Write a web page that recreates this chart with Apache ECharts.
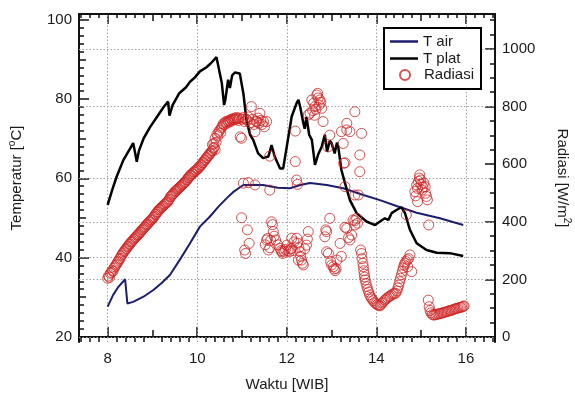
<!DOCTYPE html>
<html>
<head>
<meta charset="utf-8">
<script src="https://cdn.jsdelivr.net/npm/echarts/dist/echarts.min.js"></script>
<style>
  html, body { margin: 0; padding: 0; background: #fff; }
  #chart { width: 575px; height: 398px; }
</style>
</head>
<body>
<div id="chart"></div>
<script>
// time in decimal hours (WIB)
const xTickLabels = [8, 10, 12, 14, 16];
const tempTicks = [20, 40, 60, 80, 100];
const radTicks = [0, 200, 400, 600, 800, 1000];

// T air [hour, degC]
const tAir = [
  [8.00, 27.6], [8.04, 27.8], [8.12, 30.5], [8.24, 32.6], [8.39, 34.5], [8.44, 28.4],
  [8.57, 28.8], [8.80, 30.1], [9.02, 31.8], [9.20, 33.5], [9.39, 35.6], [9.61, 39.4],
  [9.84, 43.6], [10.06, 47.8], [10.28, 50.3], [10.47, 52.8], [10.66, 55.0], [10.80, 56.5],
  [11.03, 58.3], [11.47, 58.3], [11.80, 57.6], [12.07, 57.5], [12.30, 58.3], [12.52, 58.8],
  [12.89, 58.3], [13.26, 57.5], [13.71, 55.8], [14.08, 54.5], [14.45, 53.0], [14.90, 51.3],
  [15.42, 49.9], [15.94, 48.2]
];

// T plat [hour, degC]
const tPlat = [
  [8.00, 53.3], [8.10, 57.0], [8.20, 60.4], [8.35, 64.6], [8.50, 67.5], [8.57, 68.9],
  [8.62, 66.0], [8.65, 64.2], [8.70, 67.0], [8.80, 70.0], [8.95, 73.0], [9.10, 75.5],
  [9.25, 78.0], [9.35, 79.4], [9.38, 75.8], [9.45, 78.5], [9.60, 81.5], [9.75, 83.0],
  [9.84, 84.4], [9.95, 85.5], [10.06, 87.0], [10.20, 88.0], [10.30, 89.0], [10.43, 90.6],
  [10.47, 90.7], [10.55, 84.0], [10.60, 78.5], [10.63, 80.0], [10.69, 84.9], [10.73, 82.8],
  [10.78, 86.0], [10.84, 86.7], [10.95, 86.5], [11.03, 81.5], [11.10, 74.7], [11.18, 71.0],
  [11.25, 69.7], [11.36, 66.3], [11.47, 65.1], [11.59, 65.5], [11.66, 68.4], [11.73, 65.5],
  [11.85, 62.5], [11.92, 62.5], [12.00, 68.0], [12.11, 75.6], [12.22, 79.0], [12.26, 79.8],
  [12.30, 78.0], [12.37, 73.9], [12.40, 72.5], [12.44, 75.5], [12.50, 71.0], [12.56, 69.7],
  [12.63, 63.4], [12.70, 66.0], [12.78, 68.0], [12.85, 71.0], [12.90, 66.7], [12.96, 69.5],
  [13.00, 68.9], [13.07, 66.3], [13.12, 69.0], [13.15, 68.0], [13.22, 62.1], [13.30, 58.8],
  [13.41, 54.5], [13.56, 51.2], [13.78, 49.1], [13.97, 48.2], [14.08, 49.1], [14.19, 49.9],
  [14.27, 49.5], [14.34, 51.2], [14.45, 52.0], [14.56, 52.7], [14.64, 51.2], [14.75, 47.0],
  [14.90, 43.6], [15.12, 41.9], [15.35, 41.2], [15.64, 41.1], [15.94, 40.4]
];

// Radiasi [hour, W/m2]
const radiasi = [
  // morning rise
  [8.00, 204], [8.02, 212], [8.04, 207], [8.06, 221], [8.08, 224], [8.10, 231], [8.12, 228],
  [8.14, 239], [8.16, 244], [8.18, 249], [8.20, 253], [8.22, 259], [8.24, 263], [8.26, 270],
  [8.28, 273], [8.30, 281], [8.32, 285], [8.34, 291], [8.36, 296], [8.38, 299], [8.40, 304],
  [8.42, 307], [8.44, 313], [8.46, 315], [8.48, 321], [8.50, 323], [8.52, 329], [8.54, 331],
  [8.56, 335], [8.58, 339], [8.60, 343], [8.62, 345], [8.64, 349], [8.66, 353], [8.68, 355],
  [8.70, 359], [8.72, 363], [8.74, 365], [8.76, 371], [8.78, 373], [8.80, 377], [8.82, 381],
  [8.84, 383], [8.86, 389], [8.88, 391], [8.90, 393], [8.92, 399], [8.94, 401], [8.96, 405],
  [8.98, 407], [9.00, 411], [9.02, 415], [9.04, 419], [9.06, 425], [9.08, 427], [9.10, 433],
  [9.12, 435], [9.14, 441], [9.16, 443], [9.18, 447], [9.20, 449], [9.22, 453], [9.24, 455],
  [9.26, 459], [9.28, 461], [9.30, 465], [9.32, 467], [9.34, 469], [9.36, 475], [9.38, 479],
  [9.40, 487], [9.42, 489], [9.44, 493], [9.46, 497], [9.48, 499], [9.50, 505], [9.52, 507],
  [9.54, 509], [9.56, 513], [9.58, 515], [9.60, 519], [9.62, 521], [9.64, 525], [9.66, 527],
  [9.68, 531], [9.70, 533], [9.72, 537], [9.74, 539], [9.76, 545], [9.78, 547], [9.80, 553],
  [9.82, 555], [9.84, 561], [9.86, 561], [9.88, 567], [9.90, 567], [9.92, 573], [9.94, 573],
  [9.96, 577], [9.98, 579], [10.00, 583], [10.02, 585], [10.04, 591], [10.06, 591], [10.08, 597],
  [10.10, 599], [10.12, 605], [10.14, 607], [10.16, 613], [10.18, 615], [10.20, 621],
  [10.22, 623], [10.24, 629], [10.26, 631], [10.28, 637], [10.30, 639], [10.32, 645],
  [10.34, 647], [10.36, 655], [10.38, 659], [10.34, 668], [10.37, 672], [10.40, 650],
  // late-morning plateau
  [10.40, 690], [10.42, 676], [10.44, 704], [10.46, 698], [10.48, 712], [10.50, 718],
  [10.52, 708], [10.54, 726], [10.56, 732], [10.58, 740], [10.60, 736], [10.62, 744],
  [10.64, 748], [10.66, 742], [10.68, 750], [10.70, 746], [10.72, 752], [10.74, 748],
  [10.76, 756], [10.78, 752], [10.80, 758], [10.82, 754], [10.84, 760], [10.86, 756],
  [10.88, 762], [10.90, 758], [10.92, 752], [10.94, 760], [10.96, 695], [10.99, 690],
  [11.00, 756], [11.03, 762], [11.06, 748], [11.08, 758], [11.12, 752], [11.14, 764],
  [11.18, 744], [11.21, 800], [11.24, 756], [11.27, 738], [11.29, 713], [11.31, 750],
  [11.33, 748], [11.36, 760], [11.38, 742], [11.40, 777], [11.42, 752], [11.45, 738],
  [11.48, 748], [11.50, 730], [11.55, 748],
  [11.03, 534], [11.14, 536], [11.29, 528], [11.62, 510], [11.62, 628],
  [12.19, 715], [12.19, 609], [12.22, 545], [12.24, 530],
  // cloudy period, upper group
  [12.48, 771], [12.52, 777], [12.56, 823], [12.58, 786], [12.60, 812], [12.62, 770],
  [12.63, 800], [12.65, 790], [12.67, 840], [12.69, 846], [12.70, 830], [12.72, 805],
  [12.74, 823], [12.76, 815], [12.78, 794], [12.81, 748], [12.92, 660], [12.96, 701],
  [13.22, 713], [13.26, 672], [13.34, 742], [13.34, 719], [13.41, 713], [13.52, 782],
  [13.67, 707], [13.63, 632], [13.30, 605], [13.27, 603], [13.63, 574], [13.30, 522],
  [13.60, 493], [13.52, 493],
  // cloudy period, lower group
  [10.99, 414], [11.12, 372], [11.16, 325], [11.06, 302], [11.08, 290],
  [11.52, 320], [11.55, 337], [11.57, 342], [11.59, 302], [11.62, 310], [11.64, 335],
  [11.66, 400], [11.68, 390], [11.70, 366], [11.72, 350], [11.75, 337], [11.80, 320],
  [11.85, 308], [11.87, 300], [11.89, 296], [11.91, 290], [11.94, 298], [11.97, 304],
  [12.00, 319], [12.03, 300], [12.06, 296], [12.09, 306], [12.11, 308], [12.11, 343],
  [12.14, 300], [12.16, 330], [12.22, 343], [12.24, 326], [12.26, 267], [12.27, 310],
  [12.30, 296], [12.31, 280], [12.33, 267], [12.35, 256], [12.37, 250], [12.40, 306],
  [12.44, 319], [12.46, 340], [12.48, 366],
  [12.85, 348], [12.87, 372], [12.89, 366], [12.96, 412], [12.89, 296], [12.93, 290],
  [12.98, 262], [13.00, 250], [13.04, 244], [13.06, 236], [13.08, 230], [13.10, 238],
  [13.12, 267], [13.19, 325], [13.22, 280], [13.30, 381], [13.34, 377], [13.38, 345],
  [13.41, 337], [13.45, 354], [13.48, 406], [13.52, 389], [13.52, 404], [13.56, 412],
  [13.58, 395],
  // afternoon dip
  [13.65, 302], [13.67, 290], [13.68, 272], [13.70, 256], [13.71, 244], [13.72, 230],
  [13.73, 218], [13.74, 208], [13.75, 198], [13.77, 186], [13.79, 175], [13.81, 165],
  [13.83, 156], [13.85, 146], [13.88, 138], [13.90, 132], [13.93, 126], [13.96, 120],
  [13.99, 116], [14.02, 112], [14.05, 110], [14.08, 108], [14.10, 112], [14.13, 118],
  [14.16, 122], [14.19, 128], [14.22, 132], [14.25, 136], [14.28, 140], [14.31, 142],
  [14.34, 146], [14.37, 150], [14.40, 150], [14.43, 152], [14.46, 160], [14.48, 170],
  [14.50, 180], [14.52, 192], [14.54, 204], [14.56, 216], [14.58, 228], [14.60, 240],
  [14.62, 250], [14.64, 256], [14.66, 262], [14.69, 268], [14.70, 244], [14.72, 272],
  [14.75, 285], [14.79, 227],
  // short sunny spell
  [14.67, 424], [14.86, 505], [14.88, 490], [14.90, 528], [14.92, 516], [14.92, 470],
  [14.94, 540], [14.96, 552], [14.97, 563], [14.99, 545], [15.00, 530], [15.02, 510],
  [15.04, 520], [15.06, 535], [15.09, 522], [15.10, 499], [15.12, 488], [15.14, 476],
  [15.17, 389],
  // late afternoon
  [15.16, 128], [15.18, 105], [15.20, 92], [15.22, 84], [15.25, 78], [15.28, 76],
  [15.31, 77], [15.34, 78], [15.37, 80], [15.40, 80], [15.43, 82], [15.46, 83],
  [15.49, 84], [15.52, 86], [15.55, 87], [15.58, 88], [15.61, 90], [15.64, 92],
  [15.67, 92], [15.70, 94], [15.73, 96], [15.76, 98], [15.79, 99], [15.82, 100],
  [15.85, 102], [15.88, 103], [15.91, 104], [15.94, 106], [15.96, 108]
];

const xMin = 7.36, xMax = 16.65;
const tMin = 18.66, tMax = 101.5;
const rMin = -17.4, rMax = 1121.5;

const font = "'Liberation Sans', Arial, sans-serif";
const ink = "#111";
const textColor = "#1a1a1a";
const airColor = "#1b1d6e";
const radColor = "#d02424";

function steps(from, to, step) {
  const out = [];
  for (let v = from; v <= to + 1e-9; v += step) out.push(Math.round(v * 100) / 100);
  return out;
}

// axis that only draws a set of inward ticks
function tickAxis(position, min, max, values, length) {
  return {
    type: "value",
    position,
    min,
    max,
    axisLine: { show: false },
    axisLabel: { show: false },
    splitLine: { show: false },
    axisTick: {
      show: true,
      inside: true,
      length,
      customValues: values,
      lineStyle: { color: ink, width: 1.5 },
    },
  };
}

function mainAxis(position, min, max, ticks, labelled) {
  return {
    type: "value",
    position,
    min,
    max,
    axisLine: { show: true, lineStyle: { color: ink, width: 2 } },
    axisTick: {
      show: true,
      inside: true,
      length: 10,
      customValues: ticks,
      lineStyle: { color: ink, width: 1.5 },
    },
    axisLabel: {
      show: labelled,
      customValues: ticks,
      formatter: v => String(v),
      fontSize: 15,
      fontFamily: font,
      color: textColor,
    },
    splitLine: { show: false },
  };
}

const supName = {
  fontSize: 15, fontFamily: font, color: textColor,
  rich: { sup: { fontSize: 10, fontFamily: font, color: textColor, padding: [0, 0, 9, 0] } },
};

const oddHours = [9, 11, 13, 15];
const minorHours = steps(7.4, 16.6, 0.2).filter(v => Math.abs(v - Math.round(v)) > 1e-6);

const xAxes = [
  Object.assign(mainAxis("bottom", xMin, xMax, xTickLabels, true), {
    name: "Waktu [WIB]",
    nameLocation: "middle",
    nameGap: 35,
    nameTextStyle: { fontSize: 15, fontFamily: font, color: textColor },
  }),
  tickAxis("bottom", xMin, xMax, oddHours, 7),
  tickAxis("bottom", xMin, xMax, minorHours, 4),
  mainAxis("top", xMin, xMax, xTickLabels, false),
  tickAxis("top", xMin, xMax, oddHours, 7),
  tickAxis("top", xMin, xMax, minorHours, 4),
];
xAxes[0].axisLabel.margin = 9;

const yAxes = [
  Object.assign(mainAxis("left", tMin, tMax, tempTicks, true), {
    name: "Temperatur [{sup|o}C]",
    nameLocation: "middle",
    nameGap: 53,
    nameRotate: 90,
    nameTextStyle: supName,
  }),
  Object.assign(mainAxis("right", rMin, rMax, radTicks, true), {
    name: "Radiasi [W/m{sup|2}]",
    nameLocation: "middle",
    nameGap: 58,
    nameRotate: -90,
    nameTextStyle: supName,
  }),
  tickAxis("left", tMin, tMax, steps(30, 90, 20), 7),
  tickAxis("left", tMin, tMax, steps(20, 100, 2).filter(v => v % 10 !== 0), 5),
  tickAxis("right", rMin, rMax, steps(50, 1100, 50).filter(v => v % 200 !== 0), 5),
];
yAxes[0].axisLabel.margin = 7;
yAxes[1].axisLabel.margin = 7;

const gridLine = { color: "#a3a3a3", width: 1, type: [1.5, 2] };
const legendText = { fontSize: 15, fontFamily: font, color: textColor, lineHeight: 15 };

const chart = echarts.init(document.getElementById("chart"));
chart.setOption({
  animation: false,
  backgroundColor: "#fff",
  grid: { left: 79, right: 80, top: 14, bottom: 56, containLabel: false, outerBoundsMode: "none" },
  graphic: [{
    type: "rect",
    z: 3,
    shape: { x: 384, y: 28, width: 97, height: 61 },
    style: { fill: "#fff", stroke: "#000", lineWidth: 2 },
  }],
  legend: [
    {
      orient: "vertical",
      left: 390,
      top: 34,
      padding: 0,
      itemGap: 2,
      itemWidth: 28,
      itemHeight: 2.5,
      icon: "rect",
      textStyle: legendText,
      data: ["T air", "T plat"],
    },
    {
      orient: "vertical",
      left: 399,
      top: 67.5,
      padding: 0,
      itemWidth: 10,
      itemHeight: 10,
      textStyle: Object.assign({ padding: [0, 0, 0, 9] }, legendText),
      data: ["Radiasi"],
    },
  ],
  xAxis: xAxes,
  yAxis: yAxes,
  series: [
    {
      name: "Radiasi",
      type: "scatter",
      xAxisIndex: 0,
      yAxisIndex: 1,
      data: radiasi,
      symbol: "circle",
      symbolSize: 10,
      itemStyle: { color: "rgba(0,0,0,0)", borderColor: radColor, borderWidth: 1 },
      markLine: {
        silent: true,
        z: 1,
        symbol: "none",
        label: { show: false },
        lineStyle: gridLine,
        data: [0, 200, 400, 800, 1000].map(v => ({ yAxis: v })),
      },
    },
    {
      name: "T air",
      type: "line",
      xAxisIndex: 0,
      yAxisIndex: 0,
      data: tAir,
      symbol: "none",
      z: 2,
      lineStyle: { color: airColor, width: 2 },
      itemStyle: { color: airColor },
      markLine: {
        silent: true,
        z: 1,
        symbol: "none",
        label: { show: false },
        lineStyle: gridLine,
        data: [40, 60].map(v => ({ yAxis: v })),
      },
    },
    {
      name: "T plat",
      type: "line",
      xAxisIndex: 0,
      yAxisIndex: 0,
      data: tPlat,
      symbol: "none",
      z: 2,
      lineStyle: { color: "#000", width: 2.5 },
      itemStyle: { color: "#000" },
      markLine: {
        silent: true,
        z: 1,
        symbol: "none",
        label: { show: false },
        lineStyle: gridLine,
        data: xTickLabels.map(v => ({ xAxis: v })),
      },
    },
  ],
});
</script>
</body>
</html>
